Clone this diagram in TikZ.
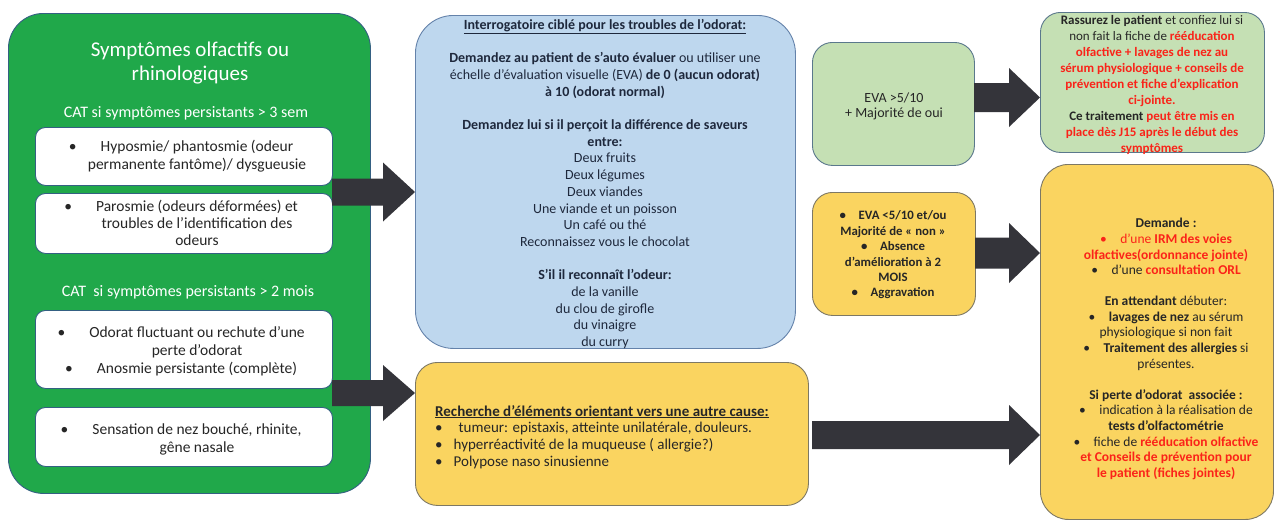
\documentclass[tikz,border=0pt]{standalone}
\usepackage{fontspec}
\setmainfont{Carlito}
\usetikzlibrary{calc}
\definecolor{gbig}{RGB}{32,168,74}
\definecolor{gborder}{RGB}{52,96,130}
\definecolor{bluef}{RGB}{190,215,238}
\definecolor{blueb}{RGB}{100,130,170}
\definecolor{yelf}{RGB}{250,212,96}
\definecolor{yelb}{RGB}{125,120,100}
\definecolor{lgf}{RGB}{197,224,180}
\definecolor{lgb}{RGB}{90,120,140}
\definecolor{arrc}{RGB}{52,52,58}
\definecolor{redt}{RGB}{250,35,25}
\definecolor{darkt}{RGB}{38,38,38}
\definecolor{navyt}{RGB}{30,40,60}
\newcommand\fs[2]{\fontsize{#1}{#2}\selectfont}
\newcommand\rb[1]{\textcolor{redt}{\bfseries #1}}
\newcommand\hb{\llap{\textbullet\hspace{24pt}}}
% block arrow: start, end, shaft half, head half, head length
\newcommand\blockarrow[5]{%
  \path (#1) coordinate (tmpA) (#2) coordinate (tmpB);
  \fill[arrc] ($(tmpA)+(0,-#3)$) -- ($(tmpB)+(-#5,-#3)$) -- ($(tmpB)+(-#5,-#4)$) -- (tmpB)
    -- ($(tmpB)+(-#5,#4)$) -- ($(tmpB)+(-#5,#3)$) -- ($(tmpA)+(0,#3)$) -- cycle;}
\begin{document}
\begin{tikzpicture}[x=1pt,y=-1pt,
  box/.style={draw, line width=0.9pt, anchor=north west, inner sep=0pt},
  txt/.style={align=center, inner sep=0pt}]
\useasboundingbox (0,0) rectangle (1278,522);
\fill[white] (0,0) rectangle (1278,522);

% left green panel
\node[box, fill=gbig, draw=gborder, rounded corners=35pt, minimum width=362pt, minimum height=480pt] (green) at (8,13) {};
\node[txt, text=white, font=\fs{21}{23.5}] (title) at (190,63) {Symptômes olfactifs ou\\rhinologiques};
\node[txt, text=white, font=\fs{16}{18}] (cat1) at (186,113) {CAT si symptômes persistants > 3 sem};
\node[box, fill=white, draw=gborder, rounded corners=10pt, minimum width=297pt, minimum height=58pt] (w1) at (35,127) {};
\node[txt, text=darkt, font=\fs{15.5}{18}] (w1t) at (197,156) {\hb Hyposmie/ phantosmie (odeur\\permanente fantôme)/ dysgueusie};
\node[box, fill=white, draw=gborder, rounded corners=10pt, minimum width=297pt, minimum height=60pt] (w2) at (35,193) {};
\node[txt, text=darkt, font=\fs{15.5}{17}] (w2t) at (197,223) {\hb Parosmie (odeurs déformées) et\\troubles de l’identification des\\odeurs};
\node[txt, text=white, font=\fs{16}{18}] (cat2) at (188,292) {CAT\ \ si symptômes persistants > 2 mois};
\node[box, fill=white, draw=gborder, rounded corners=10pt, minimum width=297pt, minimum height=78pt] (w3) at (35,310) {};
\node[txt, text=darkt, font=\fs{15.5}{18}] (w3t) at (197,351) {\hb Odorat fluctuant ou rechute d’une\\perte d’odorat\\\hb Anosmie persistante (complète)};
\node[box, fill=white, draw=gborder, rounded corners=10pt, minimum width=297pt, minimum height=59pt] (w4) at (35,407) {};
\node[txt, text=darkt, font=\fs{15.5}{18}] (w4t) at (197,439) {\hb Sensation de nez bouché, rhinite,\\gêne nasale};

% blue interrogation box
\node[box, fill=bluef, draw=blueb, rounded corners=38pt, minimum width=380pt, minimum height=333pt] (blue) at (415,15) {};
\node[txt, text=navyt, font=\fs{14}{16.7}] (bluet) at (605,184) {%
\underline{\textbf{Interrogatoire ciblé pour les troubles de l’odorat:}}\\[16.7pt]
\textbf{Demandez au patient de s’auto évaluer} ou utiliser une\\
échelle d’évaluation visuelle (EVA) \textbf{de 0 (aucun odorat)}\\
\textbf{à 10 (odorat normal)}\\[16.7pt]
\textbf{Demandez lui si il perçoit la différence de saveurs}\\
\textbf{entre:}\\
Deux fruits\\ Deux légumes\\ Deux viandes\\ Une viande et un poisson\\ Un café ou thé\\ Reconnaissez vous le chocolat\\[16.7pt]
\textbf{S’il il reconnaît l’odeur:}\\
de la vanille\\ du clou de girofle\\ du vinaigre\\ du curry};

% bottom yellow box
\node[box, fill=yelf, draw=yelb, rounded corners=22pt, minimum width=393pt, minimum height=143pt] (ybot) at (415,362) {};
\node[align=left, inner sep=0pt, anchor=west, text=darkt, font=\fs{15}{16.8}] (ybott) at (435,437) {%
\underline{\textbf{Recherche d’éléments orientant vers une autre cause:}}\\
\textbullet\hspace{16pt}tumeur: epistaxis, atteinte unilatérale, douleurs.\\
\textbullet\hspace{11pt}hyperréactivité de la muqueuse ( allergie?)\\
\textbullet\hspace{11pt}Polypose naso sinusienne};

% EVA boxes
\node[box, fill=lgf, draw=lgb, rounded corners=20pt, minimum width=162pt, minimum height=123pt] (evaok) at (812,42) {};
\node[txt, text=darkt, font=\fs{14}{15}] (evaokt) at (894,106) {EVA >5/10\\+ Majorité de oui};
\node[box, fill=yelf, draw=yelb, rounded corners=20pt, minimum width=163pt, minimum height=123pt] (evako) at (812,192) {};
\node[txt, text=darkt, font=\fs{12.8}{15.4}\bfseries] (evakot) at (893,255) {\textbullet\quad EVA <5/10 et/ou\\Majorité de « non »\\\textbullet\quad Absence\\d’amélioration à 2\\MOIS\\\textbullet\quad Aggravation};

% right green box
\node[box, fill=lgf, draw=lgb, rounded corners=20pt, minimum width=224pt, minimum height=140pt] (rg) at (1040,12) {};
\node[txt, text=darkt, font=\fs{13}{16}] (rgt) at (1152,85) {%
\textbf{Rassurez le patient} et confiez lui si\\
non fait la fiche de \rb{rééducation}\\
\rb{olfactive + lavages de nez au}\\
\rb{sérum physiologique + conseils de}\\
\rb{prévention et fiche d’explication}\\
\rb{ci-jointe.}\\
\textbf{Ce traitement} \rb{peut être mis en}\\
\rb{place dès J15 après le début des}\\
\rb{symptômes}};

% big yellow box
\node[box, fill=yelf, draw=yelb, rounded corners=28pt, minimum width=233pt, minimum height=355pt] (by) at (1040,164) {};
\node[txt, text=darkt, font=\fs{13.5}{15.6}] (byt) at (1166,349) {%
\textbf{Demande :}\\
\textcolor{redt}{\textbullet\quad d’une \textbf{IRM des voies}}\\
\rb{olfactives(ordonnance jointe)}\\
\textbullet\quad d’une \rb{consultation ORL}\\[15.6pt]
\textbf{En attendant} débuter:\\
\textbullet\quad \textbf{lavages de nez} au sérum\\
physiologique si non fait\\
\textbullet\quad \textbf{Traitement des allergies} si\\
présentes.\\[15.6pt]
\textbf{Si perte d’odorat\ \ associée :}\\
\textbullet\quad indication à la réalisation de\\
\textbf{tests d’olfactométrie}\\
\textbullet\quad fiche de \rb{rééducation olfactive}\\
\rb{et Conseils de prévention pour}\\
\rb{le patient (fiches jointes)}};

% arrows
\coordinate (a1s) at (332,192);
\coordinate (a2s) at (332,393);
\coordinate (a3s) at (974,97.5);
\coordinate (a4s) at (975,253);
\coordinate (a5s) at (812,435);
\blockarrow{a1s}{blue.west |- a1s}{13.5}{29.5}{32}
\blockarrow{a2s}{ybot.west |- a2s}{13}{28}{32}
\blockarrow{a3s}{rg.west |- a3s}{14.5}{29.5}{31}
\blockarrow{a4s}{by.west |- a4s}{15.5}{30}{31}
\blockarrow{a5s}{by.west |- a5s}{14}{30}{31}
\end{tikzpicture}
\end{document}
